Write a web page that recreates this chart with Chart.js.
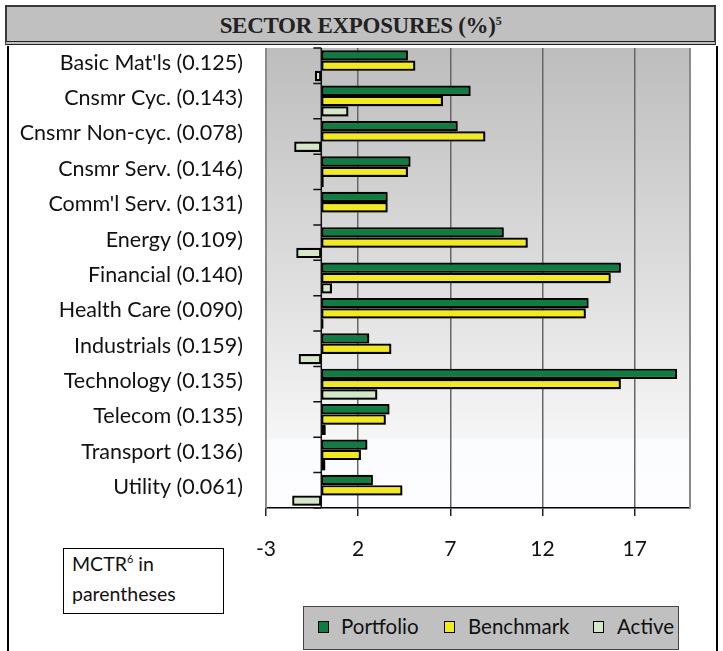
<!DOCTYPE html>
<html lang="en">
<head>
<meta charset="UTF-8">
<title>Sector Exposures</title>
<script src="https://cdn.jsdelivr.net/npm/chart.js"></script>
<style>
  body { margin: 0; background: #fff; font-family: Lato, sans-serif; color: #111; }
  #wrap { position: relative; width: 723px; height: 651px; overflow: hidden; }
  #title { position: absolute; left: 5px; top: 5px; width: 707px; height: 34px; background: #c0c0c0;
           border: 2px solid #3a3a3a; border-bottom: 4px double #222; text-align: center;
           font: bold 23px "Liberation Serif", serif; line-height: 37px; color: #222; letter-spacing: -0.3px; }
  #title sup { font-size: 12px; vertical-align: 8px; line-height: 0; }
  #frame { position: absolute; left: 7px; top: 46px; width: 707px; height: 640px; border: 2px solid #000; border-top: none; }
  canvas { position: absolute; left: 0; top: 0; }
  #note { position: absolute; left: 63px; top: 548px; width: 151px; height: 64px; border: 1.5px solid #000;
          background: #fff; padding-left: 8px; font-size: 19.5px; line-height: 30px; }
  #note sup { font-size: 11px; vertical-align: 8px; line-height: 0; }
  #legend { position: absolute; left: 303px; top: 606px; width: 374px; height: 42px; background: #c0c0c0; border: 1px solid #444; }
  .sw { position: absolute; top: 14px; width: 9px; height: 10px; border: 1.5px solid #000; }
  .lt { position: absolute; top: 7px; font-size: 20.5px; line-height: 24px; }
</style>
</head>
<body>
<div id="wrap">
  <div id="frame"></div>
  <div id="title">SECTOR EXPOSURES (%)<sup>5</sup></div>
  <canvas id="myChart" width="723" height="651"></canvas>
  <div id="note">MCTR<sup>6</sup> in<br>parentheses</div>
  <div id="legend"></div>
</div>

<script>
// data
const sectors = ["Basic Mat'ls (0.125)", "Cnsmr Cyc. (0.143)", "Cnsmr Non-cyc. (0.078)", "Cnsmr Serv. (0.146)",
                 "Comm'l Serv. (0.131)", "Energy (0.109)", "Financial (0.140)", "Health Care (0.090)",
                 "Industrials (0.159)", "Technology (0.135)", "Telecom (0.135)", "Transport (0.136)", "Utility (0.061)"];
const portfolio = [4.7, 8.1, 7.4, 4.84, 3.6, 9.9, 16.25, 14.5, 2.6, 19.3, 3.7, 2.5, 2.8];
const benchmark = [5.1, 6.6, 8.9, 4.7, 3.6, 11.2, 15.7, 14.35, 3.8, 16.25, 3.5, 2.15, 4.4];
const active = [-0.35, 1.47, -1.47, 0.13, 0, -1.36, 0.58, 0.12, -1.23, 3.04, 0.24, 0.22, -1.58];
const xTicks = [-3, 2, 7, 12, 17];
const seriesNames = ['Portfolio', 'Benchmark', 'Active'];
const seriesColors = ['#0b7f3f', '#f5eb14', '#d4e8c6'];

// legend
const legendPos = [[14, 37], [140, 164], [289, 313]];
const legendEl = document.getElementById('legend');
seriesNames.forEach((name, i) => {
    const sw = document.createElement('div');
    sw.className = 'sw';
    sw.style.left = legendPos[i][0] + 'px';
    sw.style.background = seriesColors[i];
    legendEl.appendChild(sw);
    const t = document.createElement('div');
    t.className = 'lt';
    t.style.left = legendPos[i][1] + 'px';
    t.textContent = name;
    legendEl.appendChild(t);
});

const plotDecor = {
    id: 'plotDecor',
    beforeDraw(chart) {
        const { ctx, chartArea: a } = chart;
        const g = ctx.createLinearGradient(0, a.top, 0, a.bottom);
        g.addColorStop(0, '#bdbdbd');
        g.addColorStop(0.5, '#dedede');
        g.addColorStop(0.848, '#f6f6f6');
        g.addColorStop(0.852, '#fbfcfe');
        g.addColorStop(1, '#fdfdff');
        ctx.save();
        ctx.fillStyle = g;
        ctx.fillRect(a.left, a.top, a.right - a.left, a.bottom - a.top);
        ctx.restore();
    },
    beforeDatasetsDraw(chart) {
        const ctx = chart.ctx;
        ctx.save();
        ctx.shadowColor = 'rgba(0,0,0,0.3)';
        ctx.shadowOffsetX = 1.5;
        ctx.shadowOffsetY = 1.5;
    },
    afterDatasetsDraw(chart) {
        const { ctx, chartArea: a, scales } = chart;
        ctx.restore();
        ctx.save();
        // plot frame sides
        ctx.strokeStyle = '#8a8a8a';
        ctx.lineWidth = 2;
        ctx.beginPath();
        ctx.moveTo(a.left, a.top); ctx.lineTo(a.left, a.bottom);
        ctx.moveTo(a.right, a.top); ctx.lineTo(a.right, a.bottom);
        ctx.stroke();
        // zero axis with category marks
        const x0 = scales.x.getPixelForValue(0);
        ctx.strokeStyle = '#111';
        ctx.lineWidth = 1.5;
        ctx.beginPath();
        ctx.moveTo(x0, a.top); ctx.lineTo(x0, a.bottom);
        const step = (a.bottom - a.top) / sectors.length;
        for (let k = 0; k <= sectors.length; k++) {
            const y = a.top + k * step;
            ctx.moveTo(x0 - 8, y); ctx.lineTo(x0, y);
        }
        ctx.stroke();
        ctx.restore();
    }
};

new Chart(document.getElementById('myChart'), {
    type: 'bar',
    data: {
        labels: sectors,
        datasets: [portfolio, benchmark, active].map((d, i) => ({
            label: seriesNames[i],
            data: d,
            backgroundColor: seriesColors[i],
            borderColor: '#000',
            borderWidth: 2.2,
            borderSkipped: false,
            barPercentage: 1,
            categoryPercentage: 0.875
        }))
    },
    options: {
        indexAxis: 'y',
        responsive: false,
        animation: false,
        layout: { padding: { top: 48, right: 33, left: 0, bottom: 0 } },
        plugins: { legend: { display: false }, tooltip: { enabled: false } },
        scales: {
            x: {
                min: -3,
                max: 20,
                afterBuildTicks: s => { s.ticks = xTicks.map(v => ({ value: v })); },
                afterFit: s => { s.height = 143; },
                grid: { color: '#666', lineWidth: 1.5, tickLength: 8, tickColor: '#222' },
                border: { color: '#000', width: 1.5 },
                ticks: { font: { family: 'Lato', size: 21 }, color: '#111', padding: 21, maxRotation: 0 }
            },
            y: {
                afterFit: s => { s.width = 266; },
                grid: { display: false, drawTicks: false },
                border: { display: false },
                ticks: { font: { family: 'Lato', size: 21.5 }, color: '#111', padding: 23, labelOffset: -3 }
            }
        }
    },
    plugins: [plotDecor]
});
</script>
</body>
</html>
